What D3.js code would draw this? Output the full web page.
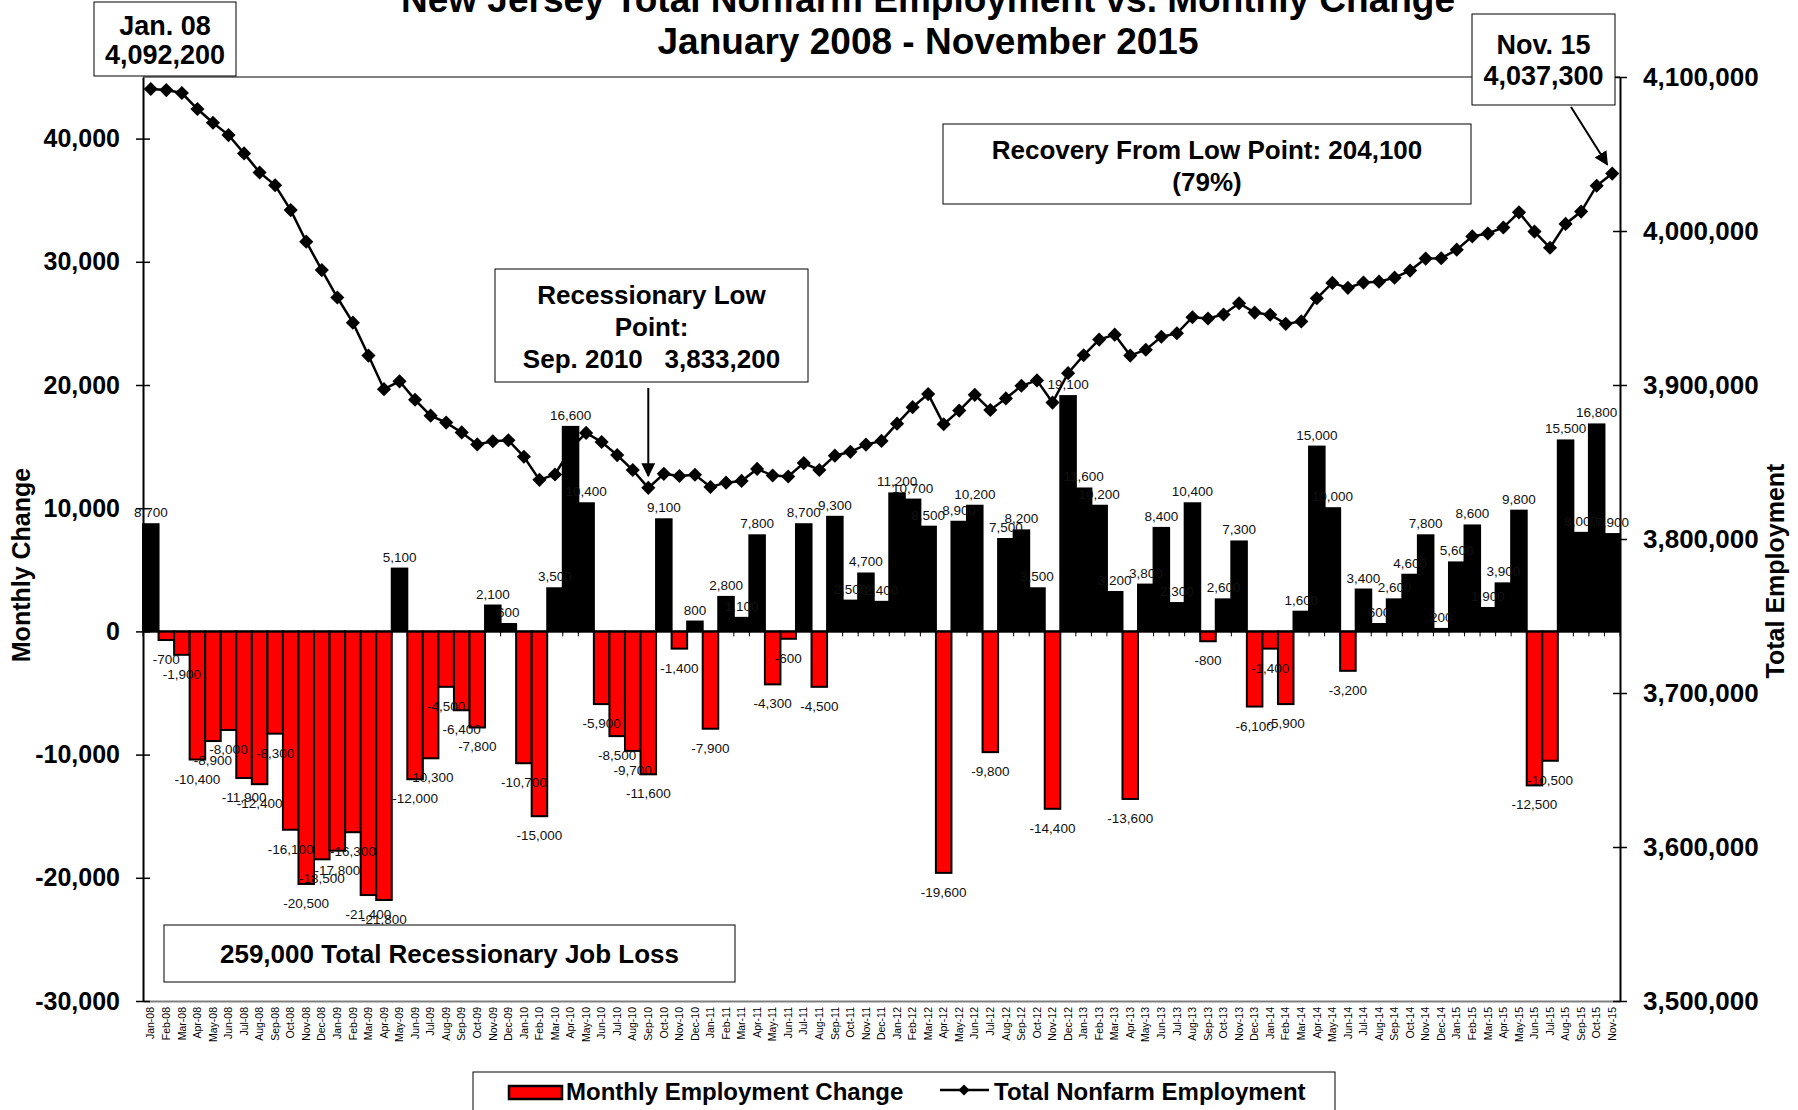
<!DOCTYPE html>
<html>
<head>
<meta charset="utf-8">
<script src="https://cdn.jsdelivr.net/npm/d3@7"></script>
<style>
  body { margin: 0; background: #fff; }
  text { font-family: "Liberation Sans", Arial, sans-serif; }
</style>
</head>
<body>
<svg id="chart" width="1798" height="1110"></svg>
<script>
// month labels Jan-08 .. Nov-15
const months = d3.timeMonths(new Date(2008, 0, 1), new Date(2015, 11, 1)).map(d3.timeFormat('%b-%y'));

// monthly change in nonfarm jobs
const monthlyChange = [
  8700, -700, -1900, -10400, -8900, -8000, -11900, -12400, -8300, -16100, -20500, -18500,
  -17800, -16300, -21400, -21800, 5100, -12000, -10300, -4500, -6400, -7800, 2100, 600,
  -10700, -15000, 3500, 16600, 10400, -5900, -8500, -9700, -11600, 9100, -1400, 800,
  -7900, 2800, 1100, 7800, -4300, -600, 8700, -4500, 9300, 2500, 4700, 2400,
  11200, 10700, 8500, -19600, 8900, 10200, -9800, 7500, 8200, 3500, -14400, 19100,
  11600, 10200, 3200, -13600, 3800, 8400, 2300, 10400, -800, 2600, 7300, -6100,
  -1400, -5900, 1600, 15000, 10000, -3200, 3400, 600, 2600, 4600, 7800, 200,
  5600, 8600, 1900, 3900, 9800, -12500, -10500, 15500, 8000, 16800, 7900
];

// total nonfarm employment
const totalEmployment = [
  4092200, 4091500, 4089600, 4079200, 4070300, 4062300, 4050400, 4038000, 4029700, 4013600, 3993100, 3974600,
  3956800, 3940500, 3919100, 3897300, 3902400, 3890400, 3880100, 3875600, 3869200, 3861400, 3863500, 3864100,
  3853400, 3838400, 3841900, 3858500, 3868900, 3863000, 3854500, 3844800, 3833200, 3842300, 3840900, 3841700,
  3833800, 3836600, 3837700, 3845500, 3841200, 3840600, 3849300, 3844800, 3854100, 3856600, 3861300, 3863700,
  3874900, 3885600, 3894100, 3874500, 3883400, 3893600, 3883800, 3891300, 3899500, 3903000, 3888600, 3907700,
  3919300, 3929500, 3932700, 3919100, 3922900, 3931300, 3933600, 3944000, 3943200, 3945800, 3953100, 3947000,
  3945600, 3939700, 3941300, 3956300, 3966300, 3963100, 3966500, 3967100, 3969700, 3974300, 3982100, 3982300,
  3987900, 3996500, 3998400, 4002300, 4012100, 3999600, 3989100, 4004600, 4012600, 4029400, 4037300
];

const leftTicks = [-30000, -20000, -10000, 0, 10000, 20000, 30000, 40000];
const rightTicks = [3500000, 3600000, 3700000, 3800000, 3900000, 4000000, 4100000];

const FONT = '"Liberation Sans", Arial, sans-serif';
const L = 143, R = 1620, T = 77, B = 1001;

const svg = d3.select('#chart');
const fmt = d3.formatLocale({ decimal: '.', thousands: ',', grouping: [3], currency: ['$', ''], minus: '-' }).format(',');

const x = d3.scaleBand().domain(months).range([L, R]).padding(0);
const yL = d3.scaleLinear().domain([-30000, 45000]).range([B, T]);
const yR = d3.scaleLinear().domain([3500000, 4100000]).range([B, T]);
const cx = i => x(months[i]) + x.bandwidth() / 2;

// arrow head
svg.append('defs').append('marker')
  .attr('id', 'arrow').attr('viewBox', '0 0 10 10')
  .attr('refX', 9).attr('refY', 5)
  .attr('markerWidth', 7).attr('markerHeight', 7)
  .attr('orient', 'auto')
  .append('path').attr('d', 'M0,0 L10,5 L0,10 Z').attr('fill', '#000');

/* plot frame top */
svg.append('line')
  .attr('x1', L).attr('x2', R).attr('y1', T).attr('y2', T)
  .attr('stroke', '#808080').attr('stroke-width', 2);

/* bars */
svg.append('g').selectAll('rect')
  .data(monthlyChange)
  .join('rect')
  .attr('x', (d, i) => x(months[i]))
  .attr('y', d => yL(Math.max(0, d)))
  .attr('width', x.bandwidth())
  .attr('height', d => Math.abs(yL(d) - yL(0)))
  .attr('fill', d => d < 0 ? '#ff0000' : '#000')
  .attr('stroke', '#000')
  .attr('stroke-width', 2);

/* zero line + ticks between categories */
svg.append('line')
  .attr('x1', L).attr('x2', R).attr('y1', yL(0)).attr('y2', yL(0))
  .attr('stroke', '#000').attr('stroke-width', 2);
svg.append('g').selectAll('line')
  .data(d3.range(months.length + 1))
  .join('line')
  .attr('x1', i => L + i * x.step()).attr('x2', i => L + i * x.step())
  .attr('y1', yL(0)).attr('y2', yL(0) + 5)
  .attr('stroke', '#000').attr('stroke-width', 1);

/* category labels along the bottom */
const gx = svg.append('g')
  .attr('transform', `translate(0,${B})`)
  .call(d3.axisBottom(x).tickSize(0).tickSizeOuter(0));
gx.attr('font-family', FONT).attr('font-size', 10.5);
gx.select('.domain').attr('stroke', '#808080').attr('stroke-width', 2);
gx.selectAll('.tick text')
  .attr('x', -6).attr('y', 0).attr('dy', '0.35em')
  .attr('text-anchor', 'end')
  .attr('transform', 'rotate(-90)')
  .attr('fill', '#000');

/* left axis */
const gl = svg.append('g')
  .attr('transform', `translate(${L},0)`)
  .call(d3.axisLeft(yL).tickValues(leftTicks).tickFormat(fmt).tickSize(7).tickSizeOuter(0).tickPadding(16));
gl.attr('font-family', FONT).attr('font-size', 25).attr('font-weight', 'bold');
gl.select('.domain').attr('stroke', '#000').attr('stroke-width', 2);
gl.selectAll('.tick line').attr('x1', 7).attr('stroke-width', 1.5);
gl.selectAll('.tick text').attr('fill', '#000');

/* right axis */
const gr = svg.append('g')
  .attr('transform', `translate(${R},0)`)
  .call(d3.axisRight(yR).tickValues(rightTicks).tickFormat(fmt).tickSize(7).tickSizeOuter(0).tickPadding(16));
gr.attr('font-family', FONT).attr('font-size', 26).attr('font-weight', 'bold');
gr.select('.domain').attr('stroke', '#000').attr('stroke-width', 2);
gr.selectAll('.tick line').attr('x1', -7).attr('stroke-width', 1.5);
gr.selectAll('.tick text').attr('fill', '#000');

/* axis titles */
svg.append('text')
  .attr('transform', `translate(30,${(T + B) / 2 + 26}) rotate(-90)`)
  .attr('text-anchor', 'middle')
  .attr('font-size', 25).attr('font-weight', 'bold')
  .text('Monthly Change');
svg.append('text')
  .attr('transform', `translate(1784,${(T + B) / 2 + 32}) rotate(-90)`)
  .attr('text-anchor', 'middle')
  .attr('font-size', 25).attr('font-weight', 'bold')
  .text('Total Employment');

/* employment line */
const line = d3.line().x((d, i) => cx(i)).y(d => yR(d));
svg.append('path')
  .datum(totalEmployment)
  .attr('d', line)
  .attr('fill', 'none')
  .attr('stroke', '#000')
  .attr('stroke-width', 2.5);
const diamond = d3.symbol(d3.symbolSquare, 100);
svg.append('g').selectAll('path')
  .data(totalEmployment)
  .join('path')
  .attr('d', diamond)
  .attr('transform', (d, i) => `translate(${cx(i)},${yR(d)}) rotate(45)`)
  .attr('fill', '#000');

/* bar value labels */
svg.append('g').selectAll('text')
  .data(monthlyChange)
  .join('text')
  .attr('x', (d, i) => cx(i))
  .attr('y', d => d < 0 ? yL(d) + 24 : yL(d) - 7)
  .attr('text-anchor', 'middle')
  .attr('font-size', 13.5)
  .attr('fill', '#111')
  .text(d => fmt(d));

/* title */
const title = svg.append('text')
  .attr('x', 928)
  .attr('text-anchor', 'middle')
  .attr('font-size', 37).attr('font-weight', 'bold');
title.append('tspan').attr('x', 928).attr('y', 12).text('New Jersey Total Nonfarm Employment vs. Monthly Change');
title.append('tspan').attr('x', 928).attr('y', 54).text('January 2008 - November 2015');

/* annotation boxes */
function box(x0, y0, w, h, lines, size, lineY) {
  const g = svg.append('g');
  g.append('rect')
    .attr('x', x0).attr('y', y0).attr('width', w).attr('height', h)
    .attr('fill', '#fff').attr('stroke', '#000').attr('stroke-width', 1);
  lines.forEach((t, i) => {
    g.append('text')
      .attr('x', x0 + w / 2).attr('y', lineY[i])
      .attr('text-anchor', 'middle')
      .attr('font-size', size).attr('font-weight', 'bold')
      .style('white-space', 'pre')
      .text(t);
  });
}

const first = totalEmployment[0];
const last = totalEmployment[totalEmployment.length - 1];
const lowIdx = totalEmployment.indexOf(d3.min(totalEmployment));
const low = totalEmployment[lowIdx];

box(94, 2, 142, 74, ['Jan. 08', fmt(first)], 27, [35, 64]);
box(1472, 14, 143, 91, ['Nov. 15', fmt(last)], 27, [54, 85]);
box(943, 124, 528, 80, ['Recovery From Low Point: ' + fmt(last - low), '(' + Math.round((last - low) / (first - low) * 100) + '%)'], 26, [159, 191]);
box(495, 269, 313, 113, ['Recessionary Low', 'Point:', 'Sep. 2010   ' + fmt(low)], 26, [304, 336, 368]);
box(164, 925, 571, 57, ['259,000 Total Recessionary Job Loss'], 26, [963]);

/* arrows to low point and last value */
svg.append('line')
  .attr('x1', cx(lowIdx)).attr('y1', 388)
  .attr('x2', cx(lowIdx)).attr('y2', yR(low) - 12)
  .attr('stroke', '#000').attr('stroke-width', 2)
  .attr('marker-end', 'url(#arrow)');
svg.append('line')
  .attr('x1', 1571).attr('y1', 107)
  .attr('x2', cx(months.length - 1) - 5).attr('y2', yR(last) - 9)
  .attr('stroke', '#000').attr('stroke-width', 2)
  .attr('marker-end', 'url(#arrow)');

/* legend */
const lg = svg.append('g');
lg.append('rect')
  .attr('x', 473).attr('y', 1072).attr('width', 862).attr('height', 48)
  .attr('fill', '#fff').attr('stroke', '#000').attr('stroke-width', 1);
lg.append('rect')
  .attr('x', 509).attr('y', 1086).attr('width', 53).attr('height', 13)
  .attr('fill', '#ff0000').attr('stroke', '#000').attr('stroke-width', 2.5);
lg.append('text')
  .attr('x', 566).attr('y', 1100)
  .attr('font-size', 24).attr('font-weight', 'bold')
  .text('Monthly Employment Change');
lg.append('line')
  .attr('x1', 940).attr('x2', 989).attr('y1', 1090).attr('y2', 1090)
  .attr('stroke', '#000').attr('stroke-width', 2.5);
lg.append('path')
  .attr('d', d3.symbol(d3.symbolSquare, 60))
  .attr('transform', 'translate(964,1090) rotate(45)')
  .attr('fill', '#000');
lg.append('text')
  .attr('x', 994).attr('y', 1100)
  .attr('font-size', 24).attr('font-weight', 'bold')
  .text('Total Nonfarm Employment');
</script>
</body>
</html>
